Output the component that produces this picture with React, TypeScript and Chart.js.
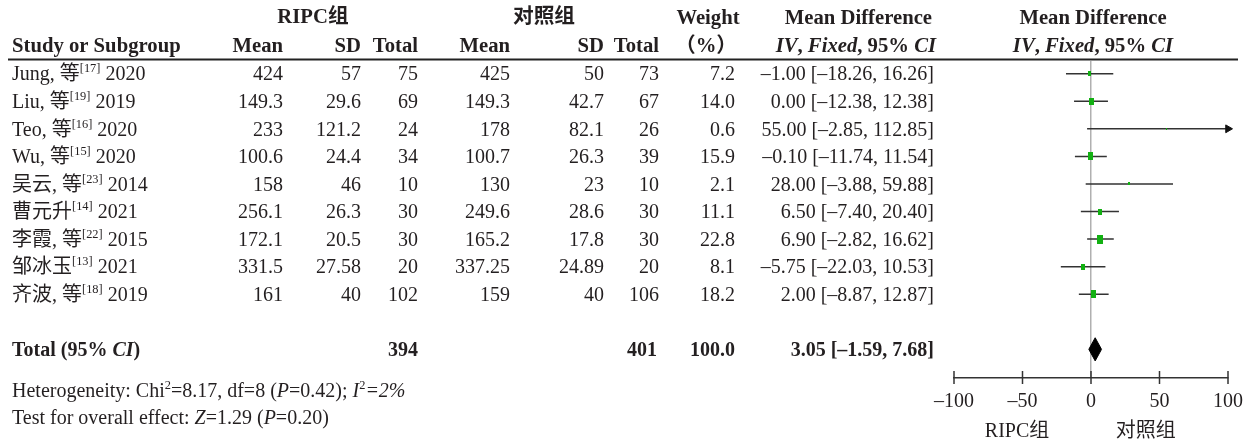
import React, { useEffect, useRef } from 'react';
import { Chart, registerables } from 'chart.js';

Chart.register(...registerables);

// ---------- data ----------
const studyNames = ['Jung, 等', 'Liu, 等', 'Teo, 等', 'Wu, 等', '吴云, 等', '曹元升', '李霞, 等', '邹冰玉', '齐波, 等'];
const studyRefs = ['[17]', '[19]', '[16]', '[15]', '[23]', '[14]', '[22]', '[13]', '[18]'];
const studyYears = ['2020', '2019', '2020', '2020', '2014', '2021', '2015', '2021', '2019'];
const ripcMean = [424, 149.3, 233, 100.6, 158, 256.1, 172.1, 331.5, 161];
const ripcSD = [57, 29.6, 121.2, 24.4, 46, 26.3, 20.5, 27.58, 40];
const ripcN = [75, 69, 24, 34, 10, 30, 30, 20, 102];
const ctrlMean = [425, 149.3, 178, 100.7, 130, 249.6, 165.2, 337.25, 159];
const ctrlSD = [50, 42.7, 82.1, 26.3, 23, 28.6, 17.8, 24.89, 40];
const ctrlN = [73, 67, 26, 39, 10, 30, 30, 20, 106];
const weights = [7.2, 14.0, 0.6, 15.9, 2.1, 11.1, 22.8, 8.1, 18.2];
const meanDiff = [-1.0, 0.0, 55.0, -0.1, 28.0, 6.5, 6.9, -5.75, 2.0];
const ciLow = [-18.26, -12.38, -2.85, -11.74, -3.88, -7.4, -2.82, -22.03, -8.87];
const ciHigh = [16.26, 12.38, 112.85, 11.54, 59.88, 20.4, 16.62, 10.53, 12.87];

const totalRipcN = 394;
const totalCtrlN = 401;
const totalWeight = 100.0;
const totalMD = 3.05;
const totalLow = -1.59;
const totalHigh = 7.68;

const hetChi2 = '8.17';
const hetDf = '8';
const hetP = '0.42';
const hetI2 = '2%';
const testZ = '1.29';
const testP = '0.20';

const axisMin = -100;
const axisMax = 100;
const axisStep = 50;
const groupNames = ['RIPC组', '对照组'];

// ---------- styling ----------
const FAMILY = '"Liberation Serif", "Noto Sans CJK SC", serif';
const TEXT = '#231f20';
const GREEN = '#12b012';
const TOTAL_ROW = 11;
const DIAMOND_HALF = 0.42;
const HEAD = 20.7;

type Seg = { t: string; b?: boolean; i?: boolean; sup?: boolean };

function fontOf(s: Seg, size: number) {
  const sz = s.sup ? size * 0.62 : size;
  return `${s.i ? 'italic ' : ''}${s.b ? 'bold ' : ''}${sz}px ${FAMILY}`;
}

function drawRich(ctx: CanvasRenderingContext2D, segs: Seg[], x: number, yc: number, align: 'left' | 'right' | 'center', size = 20) {
  const widths = segs.map((s) => {
    ctx.font = fontOf(s, size);
    return ctx.measureText(s.t).width;
  });
  const total = widths.reduce((a, b) => a + b, 0);
  let cx = align === 'left' ? x : align === 'right' ? x - total : x - total / 2;
  const base = yc + size * 0.34;
  ctx.textAlign = 'left';
  ctx.textBaseline = 'alphabetic';
  segs.forEach((s, k) => {
    ctx.font = fontOf(s, size);
    ctx.fillText(s.t, cx, s.sup ? base - size * 0.4 : base);
    cx += widths[k];
  });
}

const dash = (s: string) => s.replace(/-/g, '–');
const fmt = (n: number, d: number) => dash(n.toFixed(d));
const ciText = (m: number, lo: number, hi: number) => `${fmt(m, 2)} [${fmt(lo, 2)}, ${fmt(hi, 2)}]`;

// column anchors (px)
const COL = {
  study: 12,
  rMean: 283,
  rSD: 361,
  rN: 418,
  cMean: 510,
  cSD: 604,
  cN: 659,
  w: 735,
  md: 934,
};

const tablePlugin = {
  id: 'forestTable',
  afterDraw(chart: any) {
    const ctx: CanvasRenderingContext2D = chart.ctx;
    const xs = chart.scales.x;
    const ys = chart.scales.y;
    const area = chart.chartArea;
    ctx.save();
    ctx.fillStyle = TEXT;

    // header row 1
    drawRich(ctx, [{ t: groupNames[0], b: true }], 313, 16, 'center', HEAD);
    drawRich(ctx, [{ t: groupNames[1], b: true }], 544, 16, 'center', HEAD);
    drawRich(ctx, [{ t: 'Weight', b: true }], 708, 17, 'center', HEAD);
    drawRich(ctx, [{ t: 'Mean Difference', b: true }], COL.md - 2, 17, 'right', HEAD);
    drawRich(ctx, [{ t: 'Mean Difference', b: true }], 1093, 17, 'center', HEAD);

    // header row 2
    const hy = 45;
    drawRich(ctx, [{ t: 'Study or Subgroup', b: true }], COL.study, hy, 'left', HEAD);
    drawRich(ctx, [{ t: 'Mean', b: true }], COL.rMean, hy, 'right', HEAD);
    drawRich(ctx, [{ t: 'SD', b: true }], COL.rSD, hy, 'right', HEAD);
    drawRich(ctx, [{ t: 'Total', b: true }], COL.rN, hy, 'right', HEAD);
    drawRich(ctx, [{ t: 'Mean', b: true }], COL.cMean, hy, 'right', HEAD);
    drawRich(ctx, [{ t: 'SD', b: true }], COL.cSD, hy, 'right', HEAD);
    drawRich(ctx, [{ t: 'Total', b: true }], COL.cN, hy, 'right', HEAD);
    drawRich(ctx, [{ t: '（%）', b: true }], 706, hy, 'center', HEAD);
    const ivSegs: Seg[] = [
      { t: 'IV', b: true, i: true },
      { t: ', ', b: true },
      { t: 'Fixed', b: true, i: true },
      { t: ', 95% ', b: true },
      { t: 'CI', b: true, i: true },
    ];
    drawRich(ctx, ivSegs, COL.md + 2, hy, 'right', HEAD);
    drawRich(ctx, ivSegs, 1093, hy, 'center', HEAD);

    // header rule
    ctx.strokeStyle = '#222';
    ctx.lineWidth = 2;
    ctx.beginPath();
    ctx.moveTo(8, 59.5);
    ctx.lineTo(1238, 59.5);
    ctx.stroke();

    // study rows
    studyNames.forEach((name, i) => {
      const y = ys.getPixelForValue(i + 1);
      drawRich(ctx, [{ t: name }, { t: studyRefs[i], sup: true }, { t: ' ' + studyYears[i] }], COL.study, y, 'left');
      drawRich(ctx, [{ t: String(ripcMean[i]) }], COL.rMean, y, 'right');
      drawRich(ctx, [{ t: String(ripcSD[i]) }], COL.rSD, y, 'right');
      drawRich(ctx, [{ t: String(ripcN[i]) }], COL.rN, y, 'right');
      drawRich(ctx, [{ t: String(ctrlMean[i]) }], COL.cMean, y, 'right');
      drawRich(ctx, [{ t: String(ctrlSD[i]) }], COL.cSD, y, 'right');
      drawRich(ctx, [{ t: String(ctrlN[i]) }], COL.cN, y, 'right');
      drawRich(ctx, [{ t: weights[i].toFixed(1) }], COL.w, y, 'right');
      drawRich(ctx, [{ t: ciText(meanDiff[i], ciLow[i], ciHigh[i]) }], COL.md, y, 'right');
    });

    // total row
    const ty = ys.getPixelForValue(TOTAL_ROW);
    drawRich(ctx, [{ t: 'Total (95% ', b: true }, { t: 'CI', b: true, i: true }, { t: ')', b: true }], COL.study, ty, 'left');
    drawRich(ctx, [{ t: String(totalRipcN), b: true }], COL.rN, ty, 'right');
    drawRich(ctx, [{ t: String(totalCtrlN), b: true }], COL.cN - 2, ty, 'right');
    drawRich(ctx, [{ t: totalWeight.toFixed(1), b: true }], COL.w, ty, 'right');
    drawRich(ctx, [{ t: ciText(totalMD, totalLow, totalHigh), b: true }], COL.md, ty, 'right');

    // footnotes
    drawRich(
      ctx,
      [
        { t: 'Heterogeneity: Chi' },
        { t: '2', sup: true },
        { t: `=${hetChi2}, df=${hetDf} (` },
        { t: 'P', i: true },
        { t: `=${hetP}); ` },
        { t: 'I', i: true },
        { t: '2', sup: true },
        { t: `=${hetI2}`, i: true },
      ],
      COL.study,
      390,
      'left',
      20
    );
    drawRich(
      ctx,
      [{ t: 'Test for overall effect: ' }, { t: 'Z', i: true }, { t: `=${testZ} (` }, { t: 'P', i: true }, { t: `=${testP})` }],
      COL.study,
      417,
      'left',
      20
    );

    // tick marks crossing the x axis
    ctx.strokeStyle = '#333';
    ctx.lineWidth = 1.5;
    xs.ticks.forEach((t: any) => {
      const px = xs.getPixelForValue(t.value);
      ctx.beginPath();
      ctx.moveTo(px, area.bottom + 6);
      ctx.lineTo(px, area.bottom - 7);
      ctx.stroke();
    });

    // favours labels
    drawRich(ctx, [{ t: groupNames[0] }], xs.getPixelForValue(-54), 430, 'center');
    drawRich(ctx, [{ t: groupNames[1] }], xs.getPixelForValue(40), 430, 'center');

    ctx.restore();
  },
};

export default function App() {
  const ref = useRef<HTMLCanvasElement | null>(null);

  useEffect(() => {
    const canvas = ref.current;
    if (!canvas) return;

    const markerImgs = weights.map((w) => {
      const c = document.createElement('canvas');
      c.width = Math.max(1, Math.round(1.25 * Math.sqrt(w)));
      c.height = Math.max(2, Math.round(1.95 * Math.sqrt(w)));
      const g = c.getContext('2d')!;
      g.fillStyle = GREEN;
      g.fillRect(0, 0, c.width, c.height);
      return c;
    });

    const ciData: any[] = [];
    studyNames.forEach((_, i) => {
      ciData.push({ x: ciLow[i], y: i + 1 });
      ciData.push({ x: ciHigh[i], y: i + 1 });
      ciData.push({ x: ciHigh[i], y: null });
    });
    const markerData = meanDiff.map((m, i) => ({ x: m, y: i + 1 }));
    const arrowData = ciHigh
      .map((h, i) => (h > axisMax ? { x: axisMax, y: i + 1 } : null))
      .filter((p) => p !== null);

    const diamondTop = [
      { x: totalLow, y: TOTAL_ROW },
      { x: totalMD, y: TOTAL_ROW - DIAMOND_HALF },
      { x: totalHigh, y: TOTAL_ROW },
    ];
    const diamondBottom = [
      { x: totalLow, y: TOTAL_ROW },
      { x: totalMD, y: TOTAL_ROW + DIAMOND_HALF },
      { x: totalHigh, y: TOTAL_ROW },
    ];

    const chart = new Chart(canvas, {
      type: 'line',
      data: {
        datasets: [
          {
            data: markerData,
            showLine: false,
            pointStyle: (c: any) => markerImgs[c.dataIndex],
            pointRadius: 4,
            order: 0,
          } as any,
          {
            data: arrowData,
            showLine: false,
            pointStyle: 'triangle',
            rotation: 90,
            pointRadius: 4.5,
            backgroundColor: '#111',
            borderColor: '#111',
            borderWidth: 1,
            clip: false,
            order: 1,
          } as any,
          {
            data: ciData,
            borderColor: '#333',
            borderWidth: 1.5,
            pointRadius: 0,
            spanGaps: false,
            fill: false,
            order: 2,
          } as any,
          {
            data: diamondTop,
            borderColor: '#000',
            borderWidth: 1,
            pointRadius: 0,
            fill: false,
            tension: 0,
            order: 3,
          } as any,
          {
            data: diamondBottom,
            borderColor: '#000',
            backgroundColor: '#000',
            borderWidth: 1,
            pointRadius: 0,
            fill: '-1',
            tension: 0,
            order: 4,
          } as any,
        ],
      },
      options: {
        responsive: false,
        animation: false,
        events: [],
        layout: { padding: { left: 954, right: 24, top: 61, bottom: 22 } },
        plugins: { legend: { display: false }, tooltip: { enabled: false } },
        scales: {
          x: {
            type: 'linear',
            min: axisMin,
            max: axisMax,
            border: { display: true, color: '#333', width: 1.5 },
            grid: {
              display: true,
              drawOnChartArea: true,
              drawTicks: false,
              lineWidth: 1.5,
              color: (c: any) => (c.tick && c.tick.value === 0 ? '#b0b0b0' : 'rgba(0,0,0,0)'),
            },
            ticks: {
              stepSize: axisStep,
              padding: 12,
              color: TEXT,
              font: { family: FAMILY, size: 20 },
              callback: (v: any) => dash(String(v)),
            },
            afterFit: (s: any) => {
              s.height = 44;
              s.paddingLeft = 0;
              s.paddingRight = 0;
            },
          },
          y: {
            type: 'linear',
            reverse: true,
            min: 0.54,
            max: 12.04,
            display: false,
          },
        },
      },
      plugins: [tablePlugin],
    } as any);

    return () => chart.destroy();
  }, []);

  return (
    <div style={{ position: 'absolute', left: 0, top: 0, width: 1252, height: 444, background: '#fff' }}>
      <canvas ref={ref} width={1252} height={444} />
    </div>
  );
}
